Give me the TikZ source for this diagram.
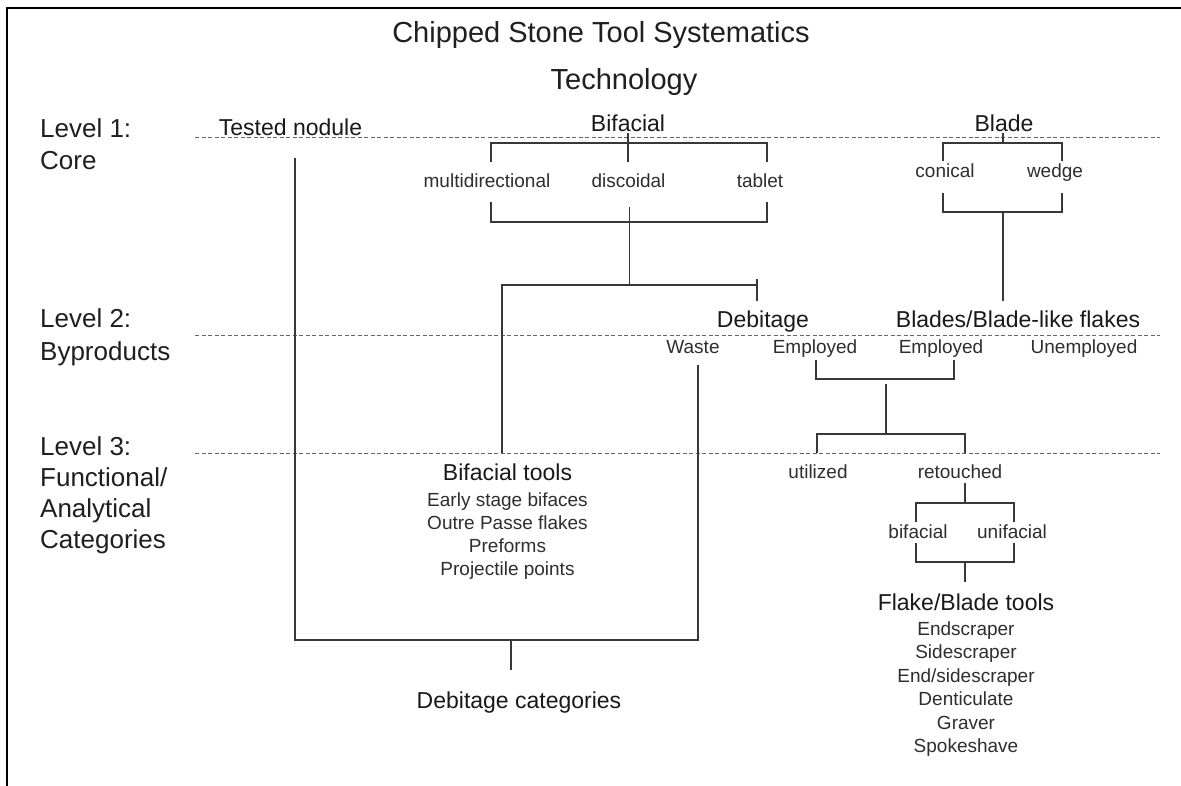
\documentclass[tikz,border=0pt]{standalone}
\usepackage{fontspec}
\setmainfont{Liberation Sans}
\tikzset{
  frameline/.style={draw=black, line width=2.2pt},
  guide/.style={draw=black!60, line width=0.9pt, dash pattern=on 4pt off 2.5pt},
  link/.style={draw=black!78, line width=1.3pt},
  ttl/.style={font=\fontsize{29}{34}\selectfont, anchor=base, inner sep=0pt, text=black!88},
  lvl/.style={font=\fontsize{26}{31}\selectfont, anchor=base west, inner sep=0pt, text=black!88},
  head/.style={font=\fontsize{23}{27}\selectfont, anchor=base, inner sep=0pt, text=black!90},
  small/.style={font=\fontsize{19}{23}\selectfont, anchor=base, inner sep=0pt, text=black!82},
}
\begin{document}
\begin{tikzpicture}[x=1pt,y=-1pt]
\useasboundingbox (0,0) rectangle (1181,786);
\fill[white] (0,0) rectangle (1181,786);

% frame
\coordinate (fbl) at (7,800);
\coordinate (ftl) at (7,8);
\coordinate (ftr) at (1195,8);
\draw[frameline] (fbl) -- (ftl) -- (ftr);

% level guides
\coordinate (g1a) at (195,137.5); \coordinate (g1b) at (1160,137.5);
\coordinate (g2a) at (195,335);   \coordinate (g2b) at (1160,335);
\coordinate (g3a) at (195,453);   \coordinate (g3b) at (1160,453);
\draw[guide] (g1a) -- (g1b);
\draw[guide] (g2a) -- (g2b);
\draw[guide] (g3a) -- (g3b);

% titles
\node[ttl] (title) at (601,43) {Chipped Stone Tool Systematics};
\node[ttl] (tech) at (624,90) {Technology};

% level labels
\node[lvl] (l1a) at (40,138) {Level 1:};
\node[lvl] (l1b) at (40,170) {Core};
\node[lvl] (l2a) at (40,328) {Level 2:};
\node[lvl] (l2b) at (40,360) {Byproducts};
\node[lvl] (l3a) at (40,455) {Level 3:};
\node[lvl] (l3b) at (40,486) {Functional/};
\node[lvl] (l3c) at (40,517) {Analytical};
\node[lvl] (l3d) at (40,548) {Categories};

% level 1
\node[head] (tested) at (290.5,136) {Tested nodule};
\node[head] (bifacial) at (628,132) {Bifacial};
\node[head] (blade) at (1004,132) {Blade};
\node[small] (multi) at (487,188) {multidirectional};
\node[small] (disc) at (628.5,188) {discoidal};
\node[small] (tablet) at (760,188) {tablet};
\node[small] (conical) at (945,178) {conical};
\node[small] (wedge) at (1055,178) {wedge};

% level 2
\node[head] (debitage) at (763,327) {Debitage};
\node[head] (blades) at (1018,327) {Blades/Blade-like flakes};
\node[small] (waste) at (693,354) {Waste};
\node[small] (emp1) at (815,353) {Employed};
\node[small] (emp2) at (941,353) {Employed};
\node[small] (unemp) at (1084,353) {Unemployed};

% level 3
\node[small] (util) at (818,478) {utilized};
\node[small] (retouch) at (960,478) {retouched};
\node[small] (bif2) at (918,538) {bifacial};
\node[small] (unif) at (1012,538) {unifacial};

\node[head] (biftools) at (507.5,480) {Bifacial tools};
\node[small] (bt1) at (507.5,506) {Early stage bifaces};
\node[small] (bt2) at (507.5,529) {Outre Passe flakes};
\node[small] (bt3) at (507.5,552) {Preforms};
\node[small] (bt4) at (507.5,575.5) {Projectile points};

\node[head] (debcat) at (519,708) {Debitage categories};

\node[head] (fbtools) at (966,610) {Flake/Blade tools};
\node[small] (ft1) at (966,635) {Endscraper};
\node[small] (ft2) at (966,658.5) {Sidescraper};
\node[small] (ft3) at (966,682) {End/sidescraper};
\node[small] (ft4) at (966,705.5) {Denticulate};
\node[small] (ft5) at (966,729) {Graver};
\node[small] (ft6) at (966,752.5) {Spokeshave};

% ---- connectors ----
% tested nodule / waste -> debitage categories
\coordinate (tnA) at (295,158);
\coordinate (tnB) at (295,640);
\coordinate (wsB) at (698,640);
\coordinate (wsA) at (698,365);
\draw[link] (tnA) -- (tnB) -- (wsB) -- (wsA);
\coordinate (dcA) at (511,640);
\coordinate (dcB) at (511,670);
\draw[link] (dcA) -- (dcB);

% bifacial top bracket
\coordinate (bfA) at (628,133);
\coordinate (bfB) at (628,162);
\draw[link] (bfA) -- (bfB);
\coordinate (bk1) at (491,162); \coordinate (bk2) at (491,143);
\coordinate (bk3) at (767,143); \coordinate (bk4) at (767,162);
\draw[link] (bk1) -- (bk2) -- (bk3) -- (bk4);
% bifacial bottom bracket
\coordinate (bb1) at (491,202); \coordinate (bb2) at (491,222);
\coordinate (bb3) at (767,222); \coordinate (bb4) at (767,202);
\draw[link] (bb1) -- (bb2) -- (bb3) -- (bb4);
\coordinate (dsA) at (629.5,207); \coordinate (dsB) at (629.5,285);
\draw[link] (dsA) -- (dsB);
\coordinate (hzA) at (502,453); \coordinate (hzB) at (502,285);
\coordinate (hzC) at (757,285);
\draw[link] (hzA) -- (hzB) -- (hzC);
\coordinate (tkA) at (757,279); \coordinate (tkB) at (757,301);
\draw[link] (tkA) -- (tkB);

% blade brackets
\coordinate (blA) at (1003,133); \coordinate (blB) at (1003,143);
\draw[link] (blA) -- (blB);
\coordinate (bt1a) at (943,161); \coordinate (bt1b) at (943,143);
\coordinate (bt1c) at (1062,143); \coordinate (bt1d) at (1062,161);
\draw[link] (bt1a) -- (bt1b) -- (bt1c) -- (bt1d);
\coordinate (bl1a) at (943,193); \coordinate (bl1b) at (943,212);
\coordinate (bl1c) at (1062,212); \coordinate (bl1d) at (1062,193);
\draw[link] (bl1a) -- (bl1b) -- (bl1c) -- (bl1d);
\coordinate (blC) at (1003,212); \coordinate (blD) at (1003,301);
\draw[link] (blC) -- (blD);

% employed brackets
\coordinate (em1) at (816,360); \coordinate (em2) at (816,379);
\coordinate (em3) at (954,379); \coordinate (em4) at (954,360);
\draw[link] (em1) -- (em2) -- (em3) -- (em4);
\coordinate (emA) at (886,384); \coordinate (emB) at (886,434);
\draw[link] (emA) -- (emB);
\coordinate (ur1) at (817,453); \coordinate (ur2) at (817,434);
\coordinate (ur3) at (965,434); \coordinate (ur4) at (965,453);
\draw[link] (ur1) -- (ur2) -- (ur3) -- (ur4);

% retouched brackets
\coordinate (rtA) at (965,483); \coordinate (rtB) at (965,503);
\draw[link] (rtA) -- (rtB);
\coordinate (rb1) at (916,522); \coordinate (rb2) at (916,503);
\coordinate (rb3) at (1014,503); \coordinate (rb4) at (1014,522);
\draw[link] (rb1) -- (rb2) -- (rb3) -- (rb4);
\coordinate (ru1) at (916,543); \coordinate (ru2) at (916,562);
\coordinate (ru3) at (1014,562); \coordinate (ru4) at (1014,543);
\draw[link] (ru1) -- (ru2) -- (ru3) -- (ru4);
\coordinate (fbA) at (965,562); \coordinate (fbB) at (965,582);
\draw[link] (fbA) -- (fbB);
\end{tikzpicture}
\end{document}
